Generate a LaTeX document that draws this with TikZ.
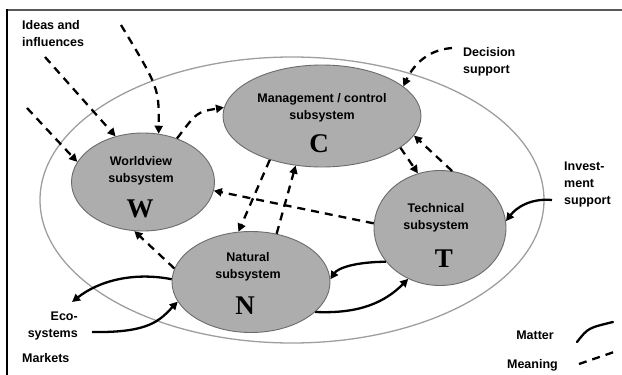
\documentclass[tikz,border=0pt]{standalone}
\usepackage{fontspec}
\setmainfont{Liberation Sans}
\newfontfamily\letterfont{Liberation Serif}
\usetikzlibrary{arrows.meta,shapes.geometric}
\definecolor{subfill}{gray}{0.68}
\definecolor{subline}{gray}{0.42}
\definecolor{sysline}{gray}{0.62}
\tikzset{
  sub/.style={ellipse, draw=subline, fill=subfill, line width=0.9pt, inner sep=0pt},
  subtext/.style={align=center, inner sep=0pt, font=\bfseries\fontsize{12.5}{17}\selectfont},
  letter/.style={inner sep=0pt, font=\letterfont\bfseries\fontsize{27}{27}\selectfont},
  lbl/.style={inner sep=0pt, font=\bfseries\fontsize{12.5}{17}\selectfont},
  meaning/.style={line width=2.3pt, dash pattern=on 8pt off 6pt, -{Triangle[length=8pt,width=8pt]}},
  matter/.style={line width=2.3pt, -{Triangle[length=8pt,width=8pt]}}
}
\begin{document}
\begin{tikzpicture}[x=1pt,y=-1pt]
\useasboundingbox (0,0) rectangle (622,375);
\draw[gray!70!black, line width=2pt] (7,10) -- (622,10);
\draw[line width=1.2pt] (7,9) -- (7,375);

\node[ellipse, draw=sysline, line width=1.3pt, minimum width=504pt, minimum height=286pt] (sys) at (292,200) {};

\node[sub, minimum width=198pt, minimum height=102pt] (C) at (322,116) {};
\node[sub, minimum width=143pt, minimum height=98pt] (W) at (143,182) {};
\node[sub, minimum width=158pt, minimum height=101pt] (N) at (251,282) {};
\node[sub, minimum width=132pt, minimum height=115pt] (T) at (440,228) {};

\node[subtext] (Ctext) at (322,108) {Management / control\\subsystem};
\node[letter] (Cletter) at (319,144) {C};
\node[subtext] (Wtext) at (141,171) {Worldview\\subsystem};
\node[letter] (Wletter) at (140,209) {W};
\node[subtext] (Ntext) at (248,267) {Natural\\subsystem};
\node[letter] (Nletter) at (245,306) {N};
\node[subtext] (Ttext) at (436,218) {Technical\\subsystem};
\node[letter] (Tletter) at (444,259) {T};

\node[lbl, align=left, anchor=north west] (ideas) at (22,20) {Ideas and\\influences};
\node[lbl, align=left, anchor=north west] (decisiontext) at (463,47) {Decision\\support};
\node[lbl, align=left, anchor=north west] (investtext) at (564,162) {Invest-\\ment\\support};
\node[lbl, align=right, anchor=north east] (ecotext) at (78,312) {Eco-\\systems};
\node[lbl, anchor=west] (marketstext) at (22,358) {Markets};
\node[lbl, anchor=east] (mattertext) at (554,335) {Matter};
\node[lbl, anchor=east] (meaningtext) at (558,365) {Meaning};

\coordinate (ideasA) at (45,57);
\coordinate (ideasB) at (121,25);
\coordinate (ideasC) at (27,108);
\coordinate (decision) at (452,48);
\coordinate (invest) at (552,200);
\coordinate (eco) at (72,302);
\coordinate (markets) at (92,332);
\coordinate (matA) at (577,342);
\coordinate (matB) at (613,322);
\coordinate (meanA) at (579,364);
\coordinate (meanB) at (614,352);

\draw[meaning] (ideasA) -- (W.121);
\draw[meaning] (ideasB) .. controls (159,88) .. (W.72);
\draw[meaning] (ideasC) -- (W.163);
\draw[meaning] (W.52) .. controls (197,112) .. (C.175);
\draw[meaning] (decision) .. controls (425,50) and (412,68) .. (C.20);
\draw[meaning] (C.-22) -- (T.112);
\draw[meaning] (T.78) -- (C.-12);
\draw[meaning] (T.176) -- (W.-7);
\draw[meaning] (N.62) -- (C.-118);
\draw[meaning] (C.-140) -- (N.104);
\draw[meaning] (N.170) -- (W.-100);

\draw[matter] (invest) .. controls (530,198) and (516,208) .. (T.6);
\draw[matter] (T.-148) .. controls (355,262) and (338,268) .. (N.2);
\draw[matter] (N.-25) .. controls (360,314) and (385,302) .. (T.-122);
\draw[matter] (N.178) .. controls (135,272) and (100,280) .. (eco);
\draw[matter] (markets) .. controls (150,333) and (160,320) .. (N.-165);

\draw[line width=2.3pt, line cap=round] (matA) .. controls (588,328) .. (matB);
\draw[line width=2.3pt, dash pattern=on 8pt off 6pt] (meanA) -- (meanB);
\end{tikzpicture}
\end{document}
